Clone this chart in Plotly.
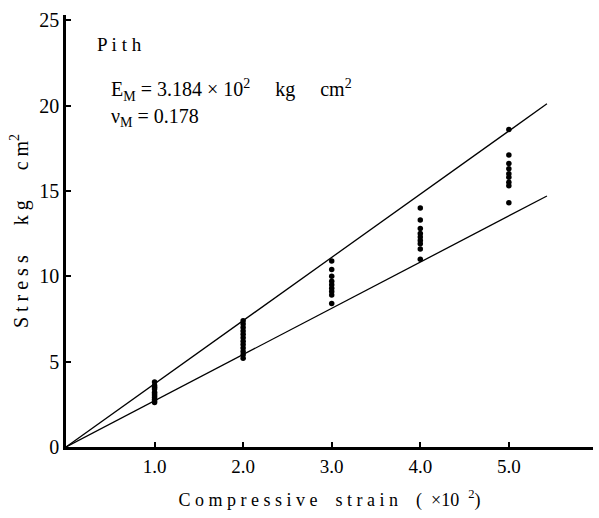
import plotly.graph_objects as go

# Data
strain_levels = [1.0, 2.0, 3.0, 4.0, 5.0]
stress_1 = [3.8, 3.6, 3.5, 3.4, 3.2, 3.1, 3.0, 2.9, 2.8, 2.7, 2.6]
stress_2 = [7.4, 7.2, 7.0, 6.8, 6.6, 6.4, 6.2, 6.0, 5.8, 5.6, 5.4, 5.2]
stress_3 = [10.9, 10.4, 10.0, 9.7, 9.5, 9.3, 9.1, 8.9, 8.4]
stress_4 = [14.0, 13.3, 12.8, 12.5, 12.3, 12.1, 11.9, 11.6, 11.0]
stress_5 = [18.6, 17.1, 16.6, 16.3, 16.0, 15.8, 15.5, 15.3, 14.3]
stress_groups = [stress_1, stress_2, stress_3, stress_4, stress_5]

upper_line_x = [0.0, 5.43]
upper_line_y = [0.0, 20.1]
lower_line_x = [0.0, 5.43]
lower_line_y = [0.0, 14.7]

y_ticks = [0, 5, 10, 15, 20, 25]
x_ticks = [1, 2, 3, 4, 5]
x_tick_labels = ["1.0", "2.0", "3.0", "4.0", "5.0"]

FONT = "Liberation Serif"
NB = "&nbsp;"

xs, ys = [], []
for sx, grp in zip(strain_levels, stress_groups):
    for v in grp:
        xs.append(sx)
        ys.append(v)

fig = go.Figure()
fig.add_trace(go.Scatter(x=upper_line_x, y=upper_line_y, mode="lines",
                         line=dict(color="black", width=1.3), showlegend=False))
fig.add_trace(go.Scatter(x=lower_line_x, y=lower_line_y, mode="lines",
                         line=dict(color="black", width=1.3), showlegend=False))
fig.add_trace(go.Scatter(x=xs, y=ys, mode="markers",
                         marker=dict(color="black", size=5.5), showlegend=False))

fig.add_annotation(x=0.33, y=23.6, xref="x", yref="y", text="P i t h", showarrow=False,
                   xanchor="left", font=dict(family=FONT, size=19, color="black"))
fig.add_annotation(x=0.49, y=20.9, xref="x", yref="y",
                   text="E<sub>M</sub> " + "=" + NB + "3.184" + NB + "×" + NB + "10<sup>2</sup>"
                        + NB * 5 + "kg" + NB * 5 + "cm<sup>2</sup>",
                   showarrow=False, xanchor="left", font=dict(family=FONT, size=20, color="black"))
fig.add_annotation(x=0.49, y=19.3, xref="x", yref="y",
                   text="ν<sub>M</sub> =" + NB + "0.178",
                   showarrow=False, xanchor="left", font=dict(family=FONT, size=20, color="black"))

fig.update_layout(
    width=599, height=518,
    margin=dict(l=66, r=6, t=15, b=71),
    plot_bgcolor="white", paper_bgcolor="white",
    font=dict(family=FONT, size=20, color="black"),
    xaxis=dict(range=[0, 5.95], tickvals=x_ticks, ticktext=x_tick_labels,
               ticks="inside", ticklen=5, tickwidth=1.5, tickcolor="black",
               showline=True, linecolor="black", linewidth=2.5,
               tickfont=dict(family=FONT, size=19),
               showgrid=False, zeroline=False,
               title=dict(text="C o m p r e s s i v e" + NB * 4 + "s t r a i n" + NB * 4
                               + "(" + NB * 2 + "×10" + NB * 2 + "<sup>2</sup>)",
                          font=dict(family=FONT, size=18), standoff=18)),
    yaxis=dict(range=[0, 25.3], tickvals=y_ticks,
               ticks="inside", ticklen=5, tickwidth=1.5, tickcolor="black",
               showline=True, linecolor="black", linewidth=2.5,
               tickfont=dict(family=FONT, size=20),
               showgrid=False, zeroline=False,
               title=dict(text="S t r e s s" + NB * 6 + "k g" + NB * 6 + "c m<sup>2</sup>",
                          font=dict(family=FONT, size=20), standoff=6)),
)

fig.write_html("out.html")
